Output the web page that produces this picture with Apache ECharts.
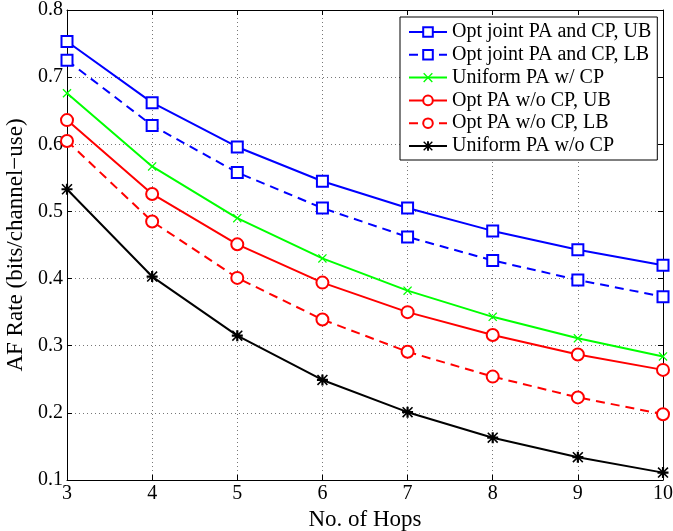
<!DOCTYPE html>
<html>
<head>
<meta charset="utf-8">
<script src="https://cdn.jsdelivr.net/npm/echarts@6/dist/echarts.min.js"></script>
<style>html,body{margin:0;padding:0;background:#fff}#c{width:673px;height:531px}</style>
</head>
<body>
<div id="c"></div>
<script>
const hops = [3, 4, 5, 6, 7, 8, 9, 10];
const seriesNames = [
  'Opt joint PA and CP, UB',
  'Opt joint PA and CP, LB',
  'Uniform PA w/ CP',
  'Opt PA w/o CP, UB',
  'Opt PA w/o CP, LB',
  'Uniform PA w/o CP'
];
const optJointUB = [0.753, 0.662, 0.596, 0.545, 0.505, 0.471, 0.443, 0.420];
const optJointLB = [0.725, 0.628, 0.558, 0.505, 0.462, 0.427, 0.398, 0.373];
const uniformWithCP = [0.676, 0.567, 0.490, 0.430, 0.382, 0.343, 0.311, 0.284];
const optPAnoCPUB = [0.636, 0.526, 0.451, 0.394, 0.350, 0.316, 0.287, 0.264];
const optPAnoCPLB = [0.605, 0.485, 0.401, 0.339, 0.291, 0.254, 0.223, 0.198];
const uniformNoCP = [0.533, 0.403, 0.315, 0.249, 0.201, 0.163, 0.134, 0.111];
const yTicks = [0.1, 0.2, 0.3, 0.4, 0.5, 0.6, 0.7, 0.8];

const FONT = '"Liberation Serif", "DejaVu Serif", serif';
const xSym = 'path://M1,0 L5,4 L9,0 L10,1 L6,5 L10,9 L9,10 L5,6 L1,10 L0,9 L4,5 L0,1 Z';
const starSym = 'path://M1,0 L5,4 L9,0 L10,1 L6,5 L10,9 L9,10 L5,6 L1,10 L0,9 L4,5 L0,1 Z M4,0 L6,0 L6,4 L10,4 L10,6 L6,6 L6,10 L4,10 L4,6 L0,6 L0,4 L4,4 Z';

function pts(vals) { return hops.map((h, i) => [h, vals[i]]); }

function mk(name, vals, color, symbol, size, dashed, fillWhite) {
  return {
    name: name,
    type: 'line',
    data: pts(vals),
    symbol: symbol,
    symbolSize: size,
    showAllSymbol: true,
    lineStyle: { color: color, width: 2, type: dashed ? [9, 6] : 'solid' },
    itemStyle: fillWhite ? { color: '#fff', borderColor: color, borderWidth: 2 } : { color: color, borderColor: color, borderWidth: 0 },
    emphasis: { disabled: true },
    animation: false
  };
}

const chart = echarts.init(document.getElementById('c'), null, { renderer: 'canvas' });
const axisCommon = {
  axisLine: { show: true, onZero: false, lineStyle: { color: '#000', width: 1 } },
  axisTick: { show: true, inside: true, length: 5, lineStyle: { color: '#000' } },
};
chart.setOption({
  backgroundColor: '#fff',
  animation: false,
  grid: { left: 67, right: 10, top: 10, bottom: 51, containLabel: false, outerBoundsMode: 'none' },
  legend: {
    orient: 'vertical',
    left: 400,
    top: 17,
    width: 257,
    padding: [5, 6, 4, 8],
    itemWidth: 38,
    itemHeight: 12,
    itemGap: 2.8,
    backgroundColor: '#fff',
    borderColor: '#000',
    borderWidth: 1,
    borderRadius: 0,
    textStyle: { fontFamily: FONT, fontSize: 20, color: '#000', lineHeight: 20, padding: [0, 0, 0, 0] },
    data: seriesNames
  },
  xAxis: [
    Object.assign({
      type: 'value', min: 3, max: 10, interval: 1, position: 'bottom',
      name: 'No. of Hops', nameLocation: 'middle', nameGap: 25,
      nameTextStyle: { fontFamily: FONT, fontSize: 23, color: '#000' },
      axisLabel: { fontFamily: FONT, fontSize: 20, color: '#000', margin: 4 },
      splitLine: { show: true, lineStyle: { color: '#777', type: [1, 3], width: 1 } }
    }, axisCommon),
    Object.assign({
      type: 'value', min: 3, max: 10, interval: 1, position: 'top',
      axisLabel: { show: false }, splitLine: { show: false }
    }, axisCommon)
  ],
  yAxis: [
    Object.assign({
      type: 'value', min: yTicks[0], max: yTicks[yTicks.length - 1], interval: 0.1, position: 'left',
      name: 'AF Rate (bits/channel\u2212use)', nameLocation: 'middle', nameGap: 35,
      nameTextStyle: { fontFamily: FONT, fontSize: 23, color: '#000' },
      axisLabel: { fontFamily: FONT, fontSize: 20, color: '#000', margin: 4, formatter: v => (Math.round(v * 10) / 10).toFixed(1) },
      splitLine: { show: true, lineStyle: { color: '#777', type: [1, 3], width: 1 } }
    }, axisCommon),
    Object.assign({
      type: 'value', min: yTicks[0], max: yTicks[yTicks.length - 1], interval: 0.1, position: 'right',
      axisLabel: { show: false }, splitLine: { show: false }
    }, axisCommon)
  ],
  series: [
    mk(seriesNames[0], optJointUB, '#0000ff', 'rect', 11, false, true),
    mk(seriesNames[1], optJointLB, '#0000ff', 'rect', 11, true, true),
    mk(seriesNames[2], uniformWithCP, '#00ff00', xSym, 9, false, false),
    mk(seriesNames[3], optPAnoCPUB, '#ff0000', 'circle', 12, false, true),
    mk(seriesNames[4], optPAnoCPLB, '#ff0000', 'circle', 12, true, true),
    mk(seriesNames[5], uniformNoCP, '#000000', starSym, 11, false, false)
  ]
});
</script>
</body>
</html>
